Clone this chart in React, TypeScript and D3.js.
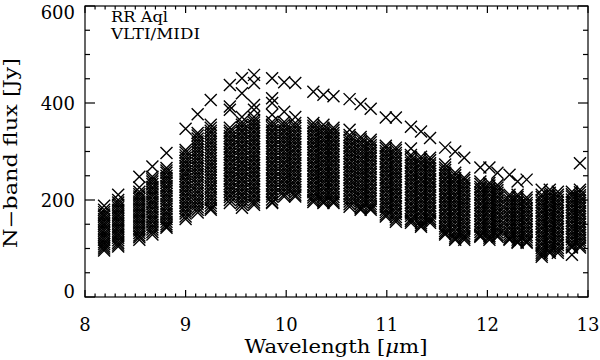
import React from 'react';
import * as d3 from 'd3';

// MIDI spectral channels (micron) and the fluxes measured in each one (Jy)
const wavelengths = [
  8.19, 8.33, 8.54, 8.67, 8.81, 9.0, 9.12, 9.25, 9.44, 9.56, 9.68, 9.86, 9.98,
  10.09, 10.27, 10.37, 10.47, 10.63, 10.74, 10.84, 10.99, 11.09, 11.24, 11.34,
  11.43, 11.58, 11.68, 11.77, 11.93, 12.02, 12.1, 12.22, 12.3, 12.39, 12.54,
  12.62, 12.7, 12.84, 12.92,
];

const fluxes = [
  [188, 180, 175, 170, 166, 161, 156, 151, 147, 142, 137, 132, 128, 123, 118, 113, 109, 104, 100, 96],
  [211, 200, 195, 190, 185, 180, 175, 170, 166, 161, 156, 151, 146, 141, 136, 131, 127, 122, 117, 112, 108, 104],
  [248, 226, 217, 212, 207, 202, 197, 192, 187, 182, 177, 172, 167, 162, 157, 152, 147, 142, 137, 132, 127, 123, 118],
  [269, 248, 243, 238, 233, 227, 222, 217, 212, 207, 201, 196, 191, 186, 181, 175, 170, 165, 160, 155, 149, 144, 139, 134, 129],
  [297, 266, 261, 256, 250, 245, 240, 235, 229, 224, 219, 213, 208, 203, 198, 192, 187, 182, 176, 171, 166, 161, 155, 150, 146, 143],
  [347, 303, 298, 292, 287, 281, 276, 270, 265, 259, 254, 249, 243, 238, 232, 227, 221, 216, 210, 205, 199, 194, 188, 183, 177, 172, 166, 161],
  [377, 338, 333, 327, 321, 316, 310, 304, 299, 293, 287, 282, 276, 270, 265, 259, 253, 248, 242, 236, 231, 225, 219, 214, 208, 202, 197, 191, 185, 180, 174],
  [406, 355, 349, 343, 338, 332, 326, 320, 315, 309, 303, 297, 292, 286, 280, 274, 269, 263, 257, 251, 246, 240, 234, 228, 223, 217, 211, 205, 200, 194, 188, 183, 180],
  [437, 393, 386, 349, 343, 338, 332, 327, 321, 316, 310, 305, 299, 294, 288, 283, 277, 272, 266, 261, 255, 250, 244, 239, 233, 228, 222, 217, 211, 206, 200, 194],
  [451, 420, 371, 361, 355, 350, 344, 339, 333, 328, 322, 317, 311, 306, 300, 295, 289, 284, 278, 273, 267, 262, 256, 251, 245, 240, 234, 229, 223, 218, 212, 207, 201, 196, 190, 184],
  [458, 441, 396, 386, 371, 365, 360, 354, 349, 343, 338, 332, 327, 321, 316, 310, 305, 299, 294, 288, 283, 277, 272, 266, 261, 255, 250, 244, 239, 233, 228, 222, 217, 211, 206, 200, 195, 190],
  [451, 410, 400, 376, 361, 355, 350, 344, 339, 333, 328, 322, 317, 311, 306, 300, 295, 289, 284, 278, 273, 267, 262, 256, 251, 245, 240, 234, 229, 223, 218, 212, 207, 201, 196, 194],
  [443, 382, 361, 355, 350, 344, 339, 333, 328, 322, 317, 311, 306, 300, 295, 289, 284, 278, 273, 267, 262, 256, 251, 245, 240, 234, 229, 223, 218, 212, 207],
  [441, 371, 359, 353, 348, 342, 337, 331, 326, 320, 315, 309, 304, 298, 293, 287, 282, 276, 271, 265, 260, 254, 249, 243, 238, 232, 227, 221, 216, 211, 207],
  [423, 359, 353, 348, 342, 337, 331, 326, 320, 315, 309, 304, 298, 293, 287, 282, 276, 271, 265, 260, 254, 249, 243, 238, 232, 227, 221, 216, 210, 205, 200, 196],
  [417, 355, 349, 344, 338, 333, 327, 322, 316, 311, 305, 300, 294, 289, 283, 278, 272, 267, 261, 256, 250, 245, 239, 234, 228, 223, 217, 212, 206, 201, 197, 194],
  [414, 349, 344, 338, 333, 327, 322, 316, 311, 305, 300, 294, 289, 283, 278, 272, 267, 261, 256, 250, 245, 239, 234, 228, 223, 217, 212, 206, 201, 197, 194],
  [408, 345, 334, 329, 323, 318, 312, 307, 301, 296, 290, 285, 279, 274, 268, 263, 257, 252, 246, 241, 235, 230, 224, 219, 213, 208, 202, 197, 191, 186],
  [398, 330, 325, 319, 314, 308, 303, 297, 292, 286, 281, 275, 270, 264, 259, 253, 248, 242, 237, 231, 226, 220, 215, 209, 204, 198, 193, 187, 183, 180],
  [388, 324, 319, 313, 308, 302, 297, 291, 286, 280, 275, 269, 264, 258, 253, 247, 242, 236, 231, 225, 220, 214, 209, 203, 198, 192, 187, 183, 180],
  [370, 312, 307, 301, 296, 290, 285, 279, 274, 268, 263, 257, 252, 246, 241, 235, 230, 224, 219, 213, 208, 202, 197, 191, 186, 180, 175, 170, 166],
  [370, 308, 303, 297, 292, 286, 281, 275, 270, 264, 259, 253, 248, 242, 237, 231, 226, 220, 215, 209, 204, 198, 193, 187, 182, 176, 171, 165, 160, 155],
  [351, 306, 293, 288, 282, 277, 271, 266, 260, 255, 249, 244, 238, 233, 227, 222, 216, 211, 205, 200, 194, 189, 183, 178, 172, 167, 161, 157, 153],
  [341, 289, 284, 278, 273, 267, 262, 256, 251, 245, 240, 234, 229, 223, 218, 212, 207, 201, 196, 190, 185, 179, 174, 168, 163, 157, 152, 148, 145],
  [328, 287, 282, 276, 271, 265, 260, 254, 249, 243, 238, 232, 227, 221, 216, 210, 205, 199, 194, 188, 183, 177, 172, 166, 161, 157, 153],
  [308, 273, 267, 262, 256, 251, 245, 240, 234, 229, 223, 218, 212, 207, 201, 196, 190, 185, 179, 174, 168, 163, 157, 152, 146, 141, 136, 132, 129],
  [300, 256, 251, 245, 240, 234, 229, 223, 218, 212, 207, 201, 196, 190, 185, 179, 174, 168, 163, 157, 152, 146, 141, 135, 130, 125, 121, 118],
  [287, 246, 241, 235, 230, 224, 219, 213, 208, 202, 197, 191, 186, 180, 175, 169, 164, 158, 153, 147, 142, 136, 131, 126, 122, 118],
  [267, 238, 233, 227, 222, 216, 211, 205, 200, 194, 189, 183, 178, 172, 167, 161, 156, 150, 145, 139, 134, 129, 126, 124],
  [267, 235, 230, 224, 219, 213, 208, 202, 197, 191, 186, 180, 175, 169, 164, 158, 153, 147, 142, 136, 131, 126, 122, 118],
  [256, 231, 226, 220, 215, 209, 204, 198, 193, 187, 182, 176, 171, 165, 160, 154, 149, 143, 138, 133, 128, 124],
  [252, 211, 206, 200, 195, 189, 184, 178, 173, 167, 162, 156, 151, 145, 140, 134, 129, 124, 120, 118],
  [238, 211, 206, 200, 195, 189, 184, 178, 173, 167, 162, 156, 151, 145, 140, 134, 129, 123, 118, 114, 112],
  [242, 205, 200, 194, 189, 183, 178, 172, 167, 161, 156, 150, 145, 139, 134, 128, 123, 118, 114, 112],
  [221, 211, 206, 200, 195, 189, 184, 178, 173, 167, 162, 156, 151, 145, 140, 134, 129, 123, 118, 112, 107, 101, 96, 91, 87, 83],
  [221, 215, 210, 204, 199, 193, 188, 182, 177, 171, 166, 160, 155, 149, 144, 138, 133, 127, 122, 116, 111, 105, 100, 95, 91],
  [217, 211, 206, 200, 195, 189, 184, 178, 173, 167, 162, 156, 151, 145, 140, 134, 129, 123, 118, 112, 107, 101, 96, 91],
  [217, 212, 207, 201, 196, 190, 185, 179, 174, 168, 163, 157, 152, 146, 141, 135, 130, 124, 119, 113, 108, 104, 102, 87],
  [276, 221, 216, 210, 205, 199, 194, 188, 183, 177, 172, 166, 161, 155, 150, 144, 139, 133, 128, 122, 117, 112, 106, 102],
];

const xMajor = [8, 9, 10, 11, 12, 13];
const yMajor = [0, 200, 400, 600];
const xMinor = d3.range(80, 131).map((d) => d / 10);
const yMinor = d3.range(0, 601, 50);

const font = "'DejaVu Serif', serif";

export default function App() {
  const left = 85;
  const right = 588;
  const top = 6;
  const bottom = 297;

  const x = d3.scaleLinear().domain([8, 13]).range([left, right]);
  const y = d3.scaleLinear().domain([0, 600]).range([bottom, top]);

  const points = wavelengths.flatMap((w, i) => fluxes[i].map((f) => [w, f]));
  const s = 6;

  return (
    <svg width={600} height={360} style={{ position: 'absolute', left: 0, top: 0, background: 'white' }}>
      <g stroke="black" strokeWidth={1.4} fill="none">
        {points.map(([w, f], i) => {
          const cx = x(w);
          const cy = y(f);
          return (
            <path key={i} d={`M${cx - s},${cy - s}L${cx + s},${cy + s}M${cx - s},${cy + s}L${cx + s},${cy - s}`} />
          );
        })}
      </g>

      {/* frame and ticks */}
      <g stroke="black" strokeWidth={1.2} fill="none">
        <rect x={left} y={top} width={right - left} height={bottom - top} />
        {xMinor.map((t) => {
          const len = xMajor.includes(t) ? 7 : 3.5;
          return (
            <g key={'xt' + t}>
              <line x1={x(t)} x2={x(t)} y1={bottom} y2={bottom - len} />
              <line x1={x(t)} x2={x(t)} y1={top} y2={top + len} />
            </g>
          );
        })}
        {yMinor.map((t) => {
          const len = yMajor.includes(t) ? 10 : 5;
          return (
            <g key={'yt' + t}>
              <line x1={left} x2={left + len} y1={y(t)} y2={y(t)} />
              <line x1={right} x2={right - len} y1={y(t)} y2={y(t)} />
            </g>
          );
        })}
      </g>

      <g fontFamily={font} fontSize={18} fill="black">
        {xMajor.map((t) => (
          <text key={'xl' + t} x={x(t)} y={331} textAnchor="middle">{t}</text>
        ))}
        {yMajor.map((t) => (
          <text key={'yl' + t} x={75} y={Math.min(298, Math.max(18.5, y(t) + 6.5))} textAnchor="end">{t}</text>
        ))}
        <text x={336} y={353} textAnchor="middle" textLength={183} lengthAdjust="spacingAndGlyphs">
          Wavelength [<tspan fontStyle="italic">μ</tspan>m]
        </text>
        <text
          transform={`translate(17,153) rotate(-90)`}
          textAnchor="middle"
          textLength={190}
          lengthAdjust="spacingAndGlyphs"
        >
          N−band flux [Jy]
        </text>
      </g>

      <g fontFamily={font} fontSize={14} fill="black">
        <text x={111} y={22} textLength={57} lengthAdjust="spacingAndGlyphs">RR Aql</text>
        <text x={111} y={39} textLength={89} lengthAdjust="spacingAndGlyphs">VLTI/MIDI</text>
      </g>
    </svg>
  );
}
